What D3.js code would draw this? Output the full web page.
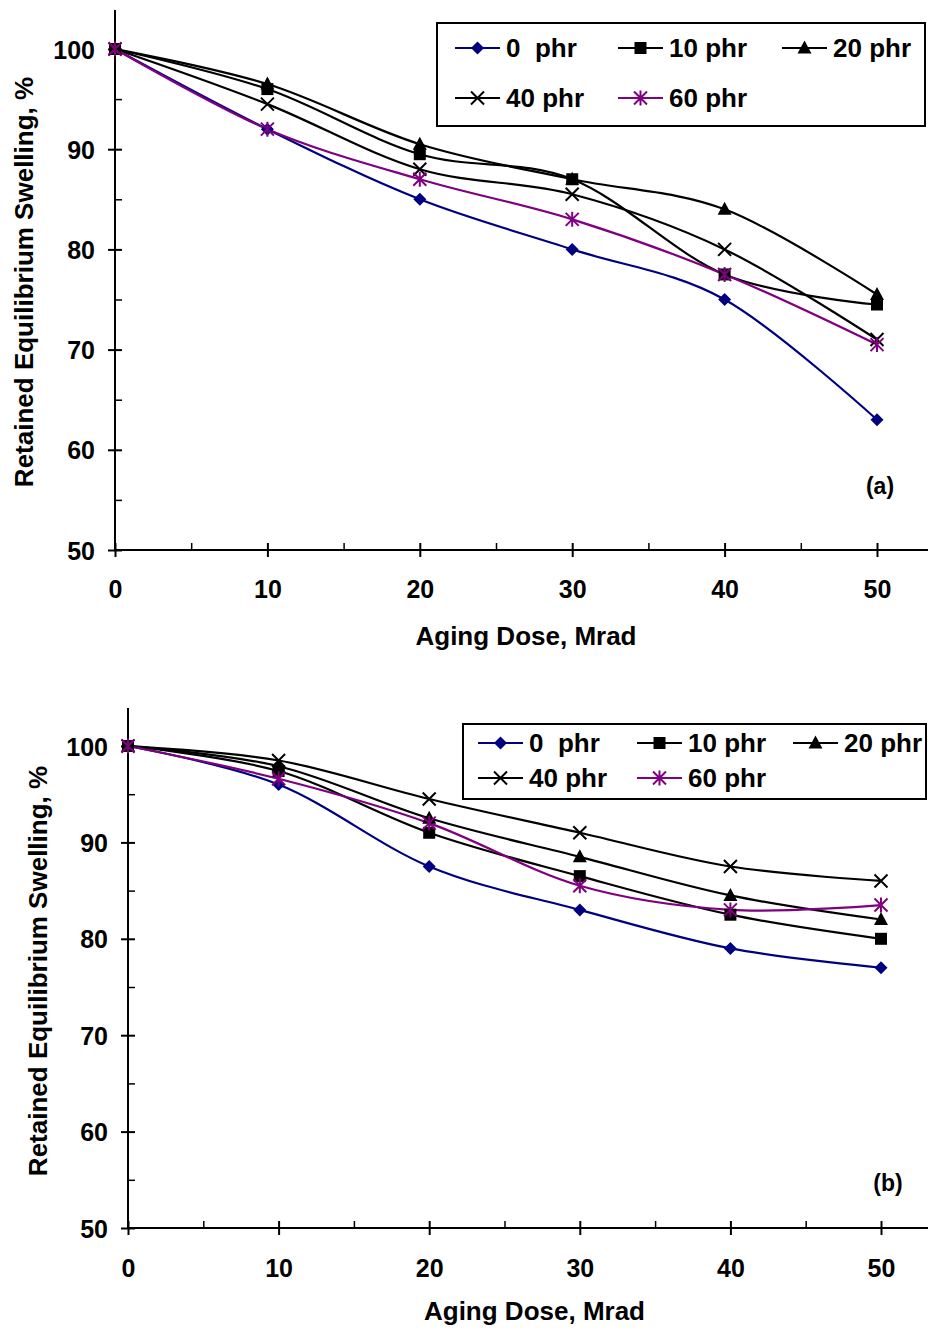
<!DOCTYPE html>
<html>
<head>
<meta charset="utf-8">
<script src="https://cdn.jsdelivr.net/npm/d3@7"></script>
<style>
  body { margin: 0; background: #fff; }
  svg { display: block; }
  text { font-family: Arial, "Liberation Sans", sans-serif; font-weight: bold; fill: #000; }
</style>
</head>
<body>
<div id="chart"></div>
<script>
// data
var doses = [0, 10, 20, 30, 40, 50];
var seriesNames = ["0  phr", "10 phr", "20 phr", "40 phr", "60 phr"];
var xTicks = [0, 10, 20, 30, 40, 50];
var xMinor = [5, 15, 25, 35, 45];
var yTicks = [50, 60, 70, 80, 90, 100];
var yMinor = [55, 65, 75, 85, 95];

// panel (a)
var a0 = [100, 92, 85, 80, 75, 63];
var a10 = [100, 96, 89.5, 87, 77.5, 74.5];
var a20 = [100, 96.5, 90.5, 87, 84, 75.5];
var a40 = [100, 94.5, 88, 85.5, 80, 71];
var a60 = [100, 92, 87, 83, 77.5, 70.5];

// panel (b)
var b0 = [100, 96, 87.5, 83, 79, 77];
var b10 = [100, 97.4, 91, 86.5, 82.5, 80];
var b20 = [100, 97.9, 92.5, 88.5, 84.5, 82];
var b40 = [100, 98.5, 94.5, 91, 87.5, 86];
var b60 = [100, 96.6, 92, 85.5, 83, 83.5];

var colors = ["#000080", "#000000", "#000000", "#000000", "#800080"];
var markers = ["diamond", "square", "triangle", "x", "star"];

var W = 928, H = 1330;
var svg = d3.select("#chart").append("svg")
    .attr("width", W)
    .attr("height", H);

function drawMarker(g, type, color) {
  if (type == "diamond") {
    g.append("path").attr("d", "M0,-6.5L6.5,0L0,6.5L-6.5,0Z").attr("fill", color);
  } else if (type == "square") {
    g.append("rect").attr("x", -6).attr("y", -6).attr("width", 12).attr("height", 12).attr("fill", color);
  } else if (type == "triangle") {
    g.append("path").attr("d", "M0,-7.5L7,5.5L-7,5.5Z").attr("fill", color);
  } else if (type == "x") {
    g.append("path").attr("d", "M-6.5,-6.5L6.5,6.5M-6.5,6.5L6.5,-6.5").attr("stroke", color).attr("stroke-width", 2);
  } else {
    g.append("path").attr("d", "M-6.5,-6.5L6.5,6.5M-6.5,6.5L6.5,-6.5M0,-7.5L0,7.5").attr("stroke", color).attr("stroke-width", 2);
  }
}

function drawPanel(p) {
  var x = d3.scaleLinear().domain([0, 50]).range([p.left, p.x50]);
  var y = d3.scaleLinear().domain([50, 100]).range([p.y50, p.y100]);
  var g = svg.append("g");

  // axis lines
  g.append("line").attr("x1", p.left).attr("x2", W).attr("y1", p.y50).attr("y2", p.y50)
    .attr("stroke", "#000").attr("stroke-width", 2);
  g.append("line").attr("x1", p.left).attr("x2", p.left).attr("y1", p.top).attr("y2", p.y50)
    .attr("stroke", "#000").attr("stroke-width", 2);

  // x ticks
  var xa = g.append("g").attr("transform", "translate(0," + p.y50 + ")")
    .call(d3.axisBottom(x).tickValues(xTicks).tickSize(7).tickFormat(d3.format("d")));
  xa.select(".domain").remove();
  xa.selectAll(".tick line").attr("y1", -7).attr("y2", 7).attr("stroke-width", 2);
  xa.selectAll(".tick text").attr("y", p.xLabelDy).attr("dy", "0").style("font-size", "25px")
    .style("font-family", "Arial, 'Liberation Sans', sans-serif").style("font-weight", "bold");

  var xm = g.append("g").attr("transform", "translate(0," + p.y50 + ")")
    .call(d3.axisBottom(x).tickValues(xMinor).tickSize(-7).tickFormat(""));
  xm.select(".domain").remove();
  xm.selectAll(".tick line").attr("stroke-width", 1.5);

  // y ticks
  var ya = g.append("g").attr("transform", "translate(" + p.left + ",0)")
    .call(d3.axisLeft(y).tickValues(yTicks).tickSize(7).tickFormat(d3.format("d")));
  ya.select(".domain").remove();
  ya.selectAll(".tick line").attr("x1", -7).attr("x2", 7).attr("stroke-width", 2);
  ya.selectAll(".tick text").attr("x", -20).attr("dy", "0.36em").style("font-size", "25px")
    .style("font-family", "Arial, 'Liberation Sans', sans-serif").style("font-weight", "bold");

  var ym = g.append("g").attr("transform", "translate(" + p.left + ",0)")
    .call(d3.axisLeft(y).tickValues(yMinor).tickSize(-7).tickFormat(""));
  ym.select(".domain").remove();
  ym.selectAll(".tick line").attr("stroke-width", 1.5);

  // axis titles
  g.append("text").attr("x", (p.left + p.x50) / 2 + 30).attr("y", p.y50 + p.titleDy)
    .attr("text-anchor", "middle").style("font-size", "26px").text("Aging Dose, Mrad");
  g.append("text")
    .attr("transform", "translate(" + p.ytitleX + "," + p.ytitleY + ") rotate(-90)")
    .attr("text-anchor", "middle").style("font-size", "26px").text("Retained Equilibrium Swelling, %");

  // lines
  var line = d3.line()
    .x(function(d, i) { return x(doses[i]); })
    .y(function(d) { return y(d); })
    .curve(d3.curveCardinal.tension(0));

  p.series.forEach(function(s, k) {
    g.append("path").datum(s)
      .attr("fill", "none")
      .attr("stroke", colors[k])
      .attr("stroke-width", 2.2)
      .attr("d", line);
  });
  p.series.forEach(function(s, k) {
    s.forEach(function(v, i) {
      var m = g.append("g").attr("transform", "translate(" + x(doses[i]) + "," + y(v) + ")");
      drawMarker(m, markers[k], colors[k]);
    });
  });

  // panel label
  g.append("text").attr("x", p.labelX).attr("y", p.labelY).attr("text-anchor", "middle")
    .style("font-size", "23px").text(p.label);

  // legend
  var L = p.legend;
  g.append("rect").attr("x", L.x).attr("y", L.y).attr("width", L.w).attr("height", L.h)
    .attr("fill", "#fff").attr("stroke", "#000").attr("stroke-width", 2);
  seriesNames.forEach(function(name, k) {
    var col = k % 3, row = Math.floor(k / 3);
    var lx = L.cols[col], ly = L.rows[row];
    g.append("line").attr("x1", lx).attr("x2", lx + 45).attr("y1", ly).attr("y2", ly)
      .attr("stroke", colors[k]).attr("stroke-width", 2);
    var m = g.append("g").attr("transform", "translate(" + (lx + 22.5) + "," + ly + ")");
    drawMarker(m, markers[k], colors[k]);
    g.append("text").attr("x", lx + 51).attr("y", ly + 9).attr("xml:space", "preserve")
      .style("white-space", "pre").style("font-size", "26px").text(name);
  });
}

drawPanel({
  left: 115, x50: 877, y100: 49, y50: 550, top: 10,
  ytitleX: 33, ytitleY: 282, xLabelDy: 48, titleDy: 95,
  series: [a0, a10, a20, a40, a60],
  label: "(a)", labelX: 880, labelY: 494,
  legend: { x: 437, y: 23, w: 488, h: 103, cols: [455, 618, 782], rows: [48, 98] }
});

drawPanel({
  left: 128, x50: 881, y100: 746, y50: 1228, top: 708,
  ytitleX: 47, ytitleY: 971, xLabelDy: 49, titleDy: 92,
  series: [b0, b10, b20, b40, b60],
  label: "(b)", labelX: 888, labelY: 1191,
  legend: { x: 463, y: 724, w: 463, h: 75, cols: [478, 637, 793], rows: [743, 778] }
});
</script>
</body>
</html>
